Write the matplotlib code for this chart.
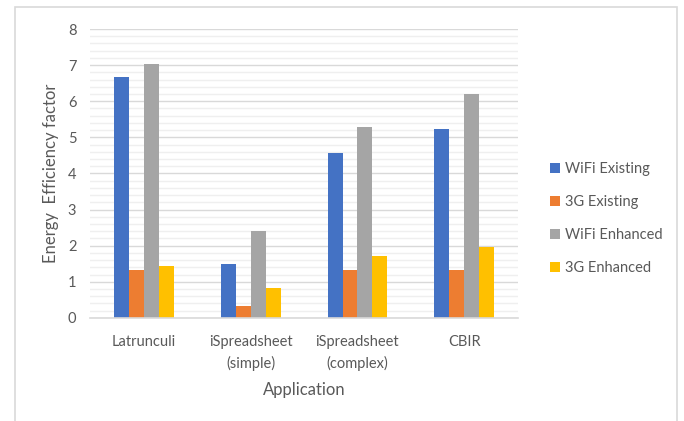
import numpy as np
import matplotlib.pyplot as plt
from matplotlib.patches import Rectangle
from matplotlib.ticker import MultipleLocator

plt.rcParams['font.family'] = ['Lato', 'DejaVu Sans']

apps = ['Latrunculi', 'iSpreadsheet\n(simple)', 'iSpreadsheet\n(complex)', 'CBIR']
series = ['WiFi Existing', '3G Existing', 'WiFi Enhanced', '3G Enhanced']
wifi_existing = [6.67, 1.49, 4.57, 5.22]
g3_existing = [1.33, 0.33, 1.33, 1.33]
wifi_enhanced = [7.02, 2.41, 5.30, 6.20]
g3_enhanced = [1.44, 0.82, 1.72, 1.97]
colors = ['#4472C4', '#ED7D31', '#A5A5A5', '#FFC000']

txt = '#595959'

fig = plt.figure(figsize=(6.84, 4.21), dpi=100)
ax = fig.add_axes([0.132, 0.245, 0.625, 0.686])

# outer chart frame
fig.patches.append(Rectangle((15 / 684, -0.05), 662 / 684, 1 - 7 / 421 + 0.05,
                             transform=fig.transFigure, fill=False,
                             edgecolor='#D9D9D9', lw=1.2))

x = np.arange(len(apps))
w = 0.14
for i, (name, vals) in enumerate(zip(series, [wifi_existing, g3_existing, wifi_enhanced, g3_enhanced])):
    ax.bar(x + (i - 1.5) * w, vals, w, color=colors[i], label=name, zorder=3)

ax.set_xlim(-0.5, len(apps) - 0.5)
ax.set_ylim(0, 8)
ax.yaxis.set_major_locator(MultipleLocator(1))
ax.yaxis.set_minor_locator(MultipleLocator(0.2))
ax.grid(axis='y', which='major', color='#D9D9D9', lw=1.0, zorder=0)
ax.grid(axis='y', which='minor', color='#EFEFEF', lw=1.0, zorder=0)
for s in ['top', 'right', 'left']:
    ax.spines[s].set_visible(False)
ax.spines['bottom'].set_color('#D9D9D9')
ax.spines['bottom'].set_linewidth(1.2)
ax.spines['bottom'].set_zorder(4)
ax.tick_params(axis='both', which='both', length=0, colors=txt, labelsize=10.5)
ax.tick_params(axis='x', pad=12)
ax.tick_params(axis='y', pad=10)
ax.set_xticks(x)
ax.set_xticklabels(apps, linespacing=1.6)

ax.set_xlabel('Application', color=txt, fontsize=12, labelpad=8)
ax.set_ylabel('Energy  Efficiency factor', color=txt, fontsize=12, labelpad=6)

leg = ax.legend(loc='center left', bbox_to_anchor=(1.045, 0.343), frameon=False,
                fontsize=10.5, handlelength=0.7, handleheight=0.7,
                handletextpad=0.3, labelspacing=1.3, labelcolor=txt)

fig.savefig('out.png', dpi=100)
